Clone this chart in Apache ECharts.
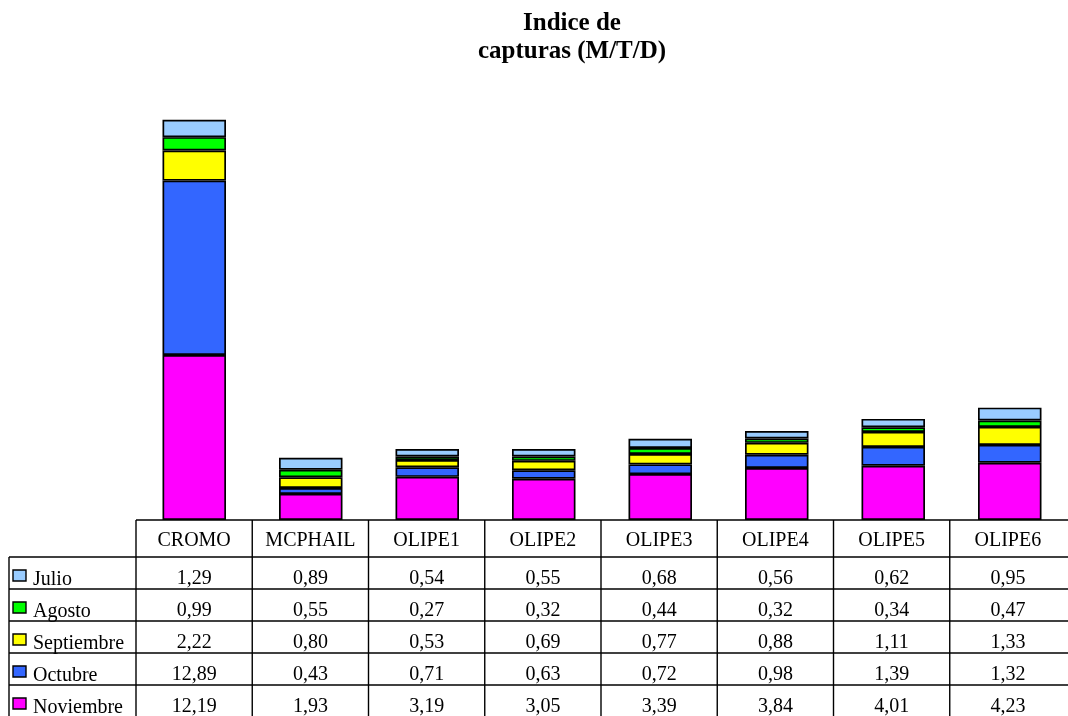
<!DOCTYPE html>
<html><head><meta charset="utf-8">
<script src="https://cdn.jsdelivr.net/npm/echarts@6/dist/echarts.min.js"></script>
<style>html,body{margin:0;padding:0;background:#fff}#c{width:1068px;height:716px}</style>
</head><body><div id="c"></div>
<script>
const categories = ['CROMO','MCPHAIL','OLIPE1','OLIPE2','OLIPE3','OLIPE4','OLIPE5','OLIPE6'];
const julio      = [1.29, 0.89, 0.54, 0.55, 0.68, 0.56, 0.62, 0.95];
const agosto     = [0.99, 0.55, 0.27, 0.32, 0.44, 0.32, 0.34, 0.47];
const septiembre = [2.22, 0.80, 0.53, 0.69, 0.77, 0.88, 1.11, 1.33];
const octubre    = [12.89, 0.43, 0.71, 0.63, 0.72, 0.98, 1.39, 1.32];
const noviembre  = [12.19, 1.93, 3.19, 3.05, 3.39, 3.84, 4.01, 4.23];
const tableNames = ['Julio','Agosto','Septiembre','Octubre','Noviembre'];
const tableData  = [julio, agosto, septiembre, octubre, noviembre];
const colors     = ['#99CCFF','#00FF00','#FFFF00','#3366FF','#FF00FF'];
const yMax = 30;

const FONT = '"Liberation Serif","Times New Roman",serif';
const chart = echarts.init(document.getElementById('c'), null, {renderer:'canvas'});

// stack bottom to top: Noviembre, Octubre, Septiembre, Agosto, Julio
const stackOrder = [4,3,2,1,0];
const series = stackOrder.map(i => ({
  name: tableNames[i], type: 'bar', stack: 'total', barWidth: '54.5%',
  data: tableData[i],
  itemStyle: {color: colors[i], borderColor: '#000', borderWidth: 1.7},
  emphasis: {disabled: true}
}));

const gridLeft = 136, gridRight = -8, gridTop = 114, gridBottom = 196;

chart.setOption({
  animation: false,
  backgroundColor: '#fff',
  title: {
    text: 'Indice de\ncapturas (M/T/D)', left: 567, top: 5, textAlign: 'center',
    textStyle: {fontFamily: FONT, fontWeight: 'bold', fontSize: 25, lineHeight: 28, color: '#000'}
  },
  grid: {left: gridLeft, right: gridRight, top: gridTop, bottom: gridBottom, containLabel: false},
  xAxis: {type: 'category', data: categories, axisLine: {show: false}, axisTick: {show: false}, axisLabel: {show: false}},
  yAxis: {type: 'value', min: 0, max: yMax, show: false, splitLine: {show: false}},
  series: series
});

// data table under the plot (its own column layout)
const g = [];
const yBase = chart.convertToPixel({yAxisIndex: 0}, 0);
const headerBottom = yBase + 37;
const rowH = 32;
const tableLeft = 136, tableColW = 116.25, tableRight = 1068, leftEdge = 9;
const colCenters = categories.map((c, i) => tableLeft + tableColW * (i + 0.5));
const line = (x1, y1, x2, y2) => ({type: 'line', shape: {x1, y1, x2, y2}, style: {stroke: '#000', lineWidth: 1.4}, silent: true});
const txt = (x, y, t, align) => ({type: 'text', x, y, style: {text: t, fill: '#000', font: '20px ' + FONT, textAlign: align || 'center', textVerticalAlign: 'middle'}, silent: true});

g.push(line(tableLeft, yBase, tableRight, yBase));
g.push(line(leftEdge, headerBottom, tableRight, headerBottom));
for (let i = 0; i < categories.length; i++) {
  const x = tableLeft + i * tableColW;
  g.push(line(x, yBase, x, 726));
}
g.push(line(leftEdge, headerBottom, leftEdge, 726));
categories.forEach((c, i) => g.push(txt(colCenters[i], yBase + 21, c)));

tableNames.forEach((n, r) => {
  const top = headerBottom + r * rowH;
  const bot = top + rowH;
  g.push(line(leftEdge, bot, tableRight, bot));
  g.push({type: 'rect', shape: {x: 13, y: top + 13, width: 13, height: 11}, style: {fill: colors[r], stroke: '#000', lineWidth: 1.4}, silent: true});
  g.push(txt(33, top + 22.5, n, 'left'));
  tableData[r].forEach((v, i) => g.push(txt(colCenters[i], top + 21.5, v.toFixed(2).replace('.', ','))));
});

chart.setOption({graphic: {elements: g}});
</script>
</body></html>
